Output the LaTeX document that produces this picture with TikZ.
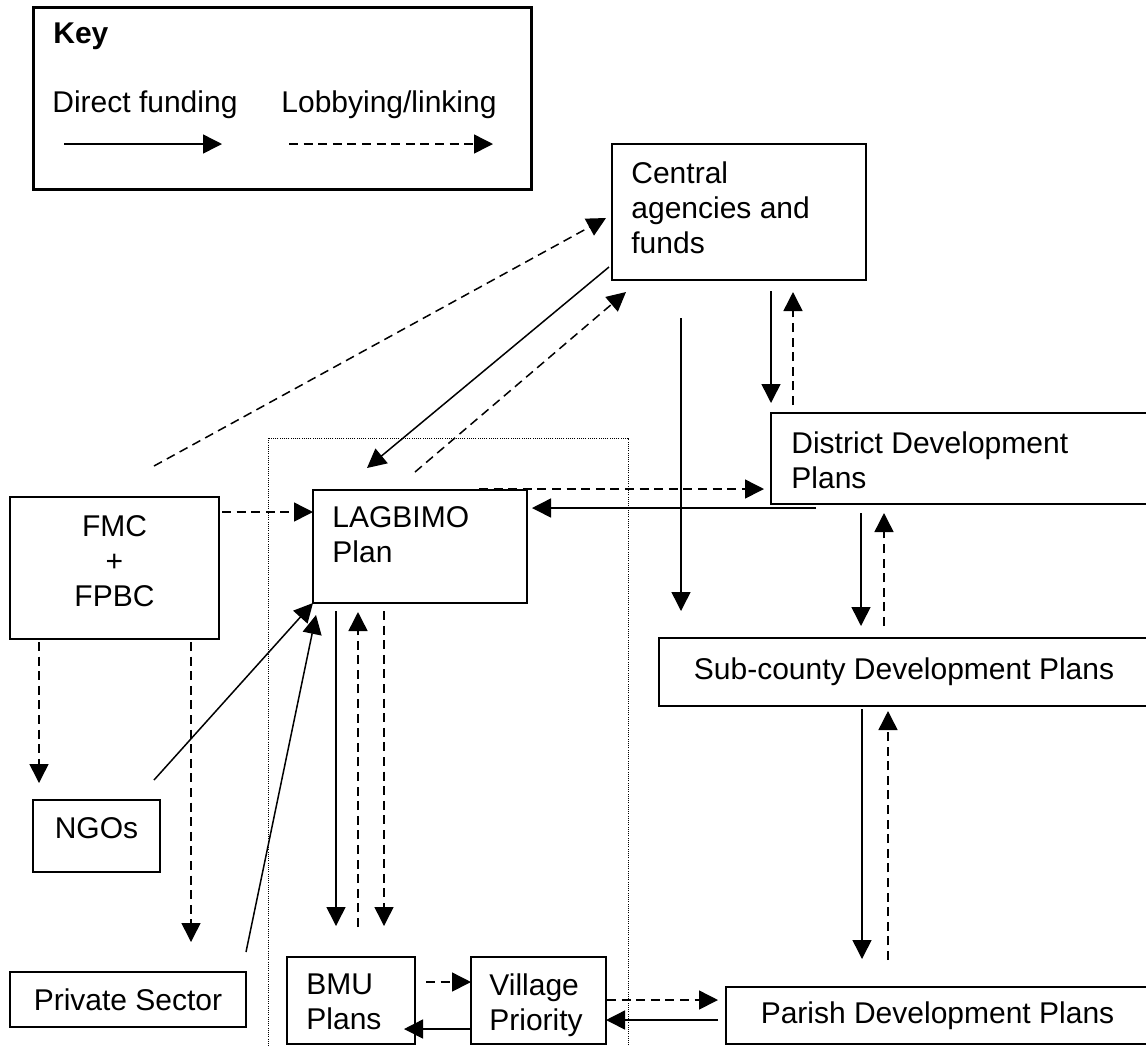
\documentclass[tikz,border=0pt]{standalone}
\usepackage{fontspec}
\setmainfont{Liberation Sans}
\usetikzlibrary{arrows.meta}
\tikzset{
  box/.style={draw, line width=0.75pt, outer sep=0pt, inner sep=0pt, anchor=north west},
  txt/.style={inner sep=0pt, align=left, anchor=north west},
  fund/.style={line width=0.75pt, -{Triangle[length=9.5pt,width=9.5pt]}},
  lobby/.style={fund, dash pattern=on 4.5pt off 2.8pt},
  zone/.style={line width=0.5pt, dash pattern=on 0.5pt off 0.6pt}
}
\begin{document}
\begin{tikzpicture}[x=0.5pt, y=-0.5pt, font=\fontsize{15}{17.5}\selectfont]
\clip (0,0) rectangle (1146,1046);

\node[box, line width=1.5pt, minimum width=249pt, minimum height=91pt] (key) at (33,7) {};
\node[anchor=base west, inner sep=0pt] (keyhead) at ([shift={(20,36)}]key.north west) {\textbf{Key}};
\node[anchor=base west, inner sep=0pt] (keyfund) at ([shift={(19,105)}]key.north west) {Direct funding};
\node[anchor=base west, inner sep=0pt] (keylobby) at ([shift={(248,105)}]key.north west) {Lobbying/linking};
\draw[fund] ([shift={(12,32)}]keyfund.base west) -- ([shift={(170,32)}]keyfund.base west);
\draw[lobby] ([shift={(8,32)}]keylobby.base west) -- ([shift={(212,32)}]keylobby.base west);

\draw[zone] (268,438) rectangle (628,1060);

\node[box, minimum width=127pt, minimum height=68pt] (cen) at (612,144) {};
\node[txt] (centxt) at ([shift={(19,17)}]cen.north west) {Central\\agencies and\\funds};
\node[box, minimum width=189pt, minimum height=45.5pt] (dis) at (771,413) {};
\node[txt] (distxt) at ([shift={(20,18)}]dis.north west) {District Development\\Plans};
\node[box, minimum width=107pt, minimum height=56.5pt] (lag) at (313,490) {};
\node[txt] (lagtxt) at ([shift={(19,16)}]lag.north west) {LAGBIMO\\Plan};
\node[box, minimum width=104.5pt, minimum height=71pt] (fmc) at (10,497) {};
\node[txt, align=center, anchor=north] (fmctxt) at ([shift={(0,18)}]fmc.north) {FMC\\+\\FPBC};
\node[box, minimum width=63.5pt, minimum height=36pt] (ngo) at (33,800) {};
\node[txt, anchor=north] (ngotxt) at ([shift={(0,17)}]ngo.north) {NGOs};
\node[box, minimum width=118pt, minimum height=27.5pt] (pri) at (10,972) {Private Sector};
\node[box, minimum width=245pt, minimum height=34pt] (sub) at (659,638) {Sub-county Development Plans};
\node[box, minimum width=211.5pt, minimum height=28.5pt] (par) at (726,987) {Parish Development Plans};
\node[box, minimum width=64pt, minimum height=43.5pt] (bmu) at (287,957) {};
\node[txt] (bmutxt) at ([shift={(19,16)}]bmu.north west) {BMU\\Plans};
\node[box, minimum width=67.5pt, minimum height=43.5pt] (vil) at (471,957) {};
\node[txt] (viltxt) at ([shift={(18,16)}]vil.north west) {Village\\Priority};

\draw[fund] ([shift={(-3,-13)}]cen.south west) -- ([shift={(54,-22)}]lag.north west);
\draw[fund] ([shift={(69,38)}]cen.south west) -- ([shift={(22,-27)}]sub.north west);
\draw[fund] ([shift={(159,11)}]cen.south west) -- ([shift={(0,-10)}]dis.north west);
\draw[fund] ([shift={(45,4)}]dis.south west) -- ([shift={(5,18)}]lag.north east);
\draw[fund] ([shift={(90,9)}]dis.south west) -- ([shift={(202,-12)}]sub.north west);
\draw[fund] ([shift={(203,3)}]sub.south west) -- ([shift={(136,-28)}]par.north west);
\draw[fund] ([shift={(-6,-20)}]ngo.north east) -- (lag.south west);
\draw[fund] ([shift={(0,-20)}]pri.north east) -- ([shift={(3,12)}]lag.south west);
\draw[fund] ([shift={(23,8)}]lag.south west) -- ([shift={(49,-31)}]bmu.north west);
\draw[fund] ([shift={(0,72)}]vil.north west) -- ([shift={(-11,72)}]bmu.north east);
\draw[fund] ([shift={(-8,33)}]par.north west) -- ([shift={(0,63)}]vil.north east);

\draw[lobby] ([shift={(144,-31)}]fmc.north west) -- ([shift={(-6,74)}]cen.north west);
\draw[lobby] ([shift={(102,-18)}]lag.north west) -- ([shift={(14,12)}]cen.south west);
\draw[lobby] ([shift={(22,-8)}]dis.north west) -- ([shift={(181,12)}]cen.south west);
\draw[lobby] ([shift={(166,-1)}]lag.north west) -- ([shift={(-7,76)}]dis.north west);
\draw[lobby] ([shift={(3,15)}]fmc.north east) -- ([shift={(0,22)}]lag.north west);
\draw[lobby] ([shift={(225,-12)}]sub.north west) -- ([shift={(113,9)}]dis.south west);
\draw[lobby] ([shift={(162,-27)}]par.north west) -- ([shift={(229,5)}]sub.south west);
\draw[lobby] ([shift={(29,3)}]fmc.south west) -- ([shift={(6,-17)}]ngo.north west);
\draw[lobby] ([shift={(181,3)}]fmc.south west) -- ([shift={(181,-30)}]pri.north west);
\draw[lobby] ([shift={(71,-30)}]bmu.north west) -- ([shift={(45,9)}]lag.south west);
\draw[lobby] ([shift={(71,8)}]lag.south west) -- ([shift={(97,-31)}]bmu.north west);
\draw[lobby] ([shift={(11,25)}]bmu.north east) -- ([shift={(0,25)}]vil.north west);
\draw[lobby] ([shift={(1,43)}]vil.north east) -- ([shift={(-8,13)}]par.north west);

\end{tikzpicture}
\end{document}
